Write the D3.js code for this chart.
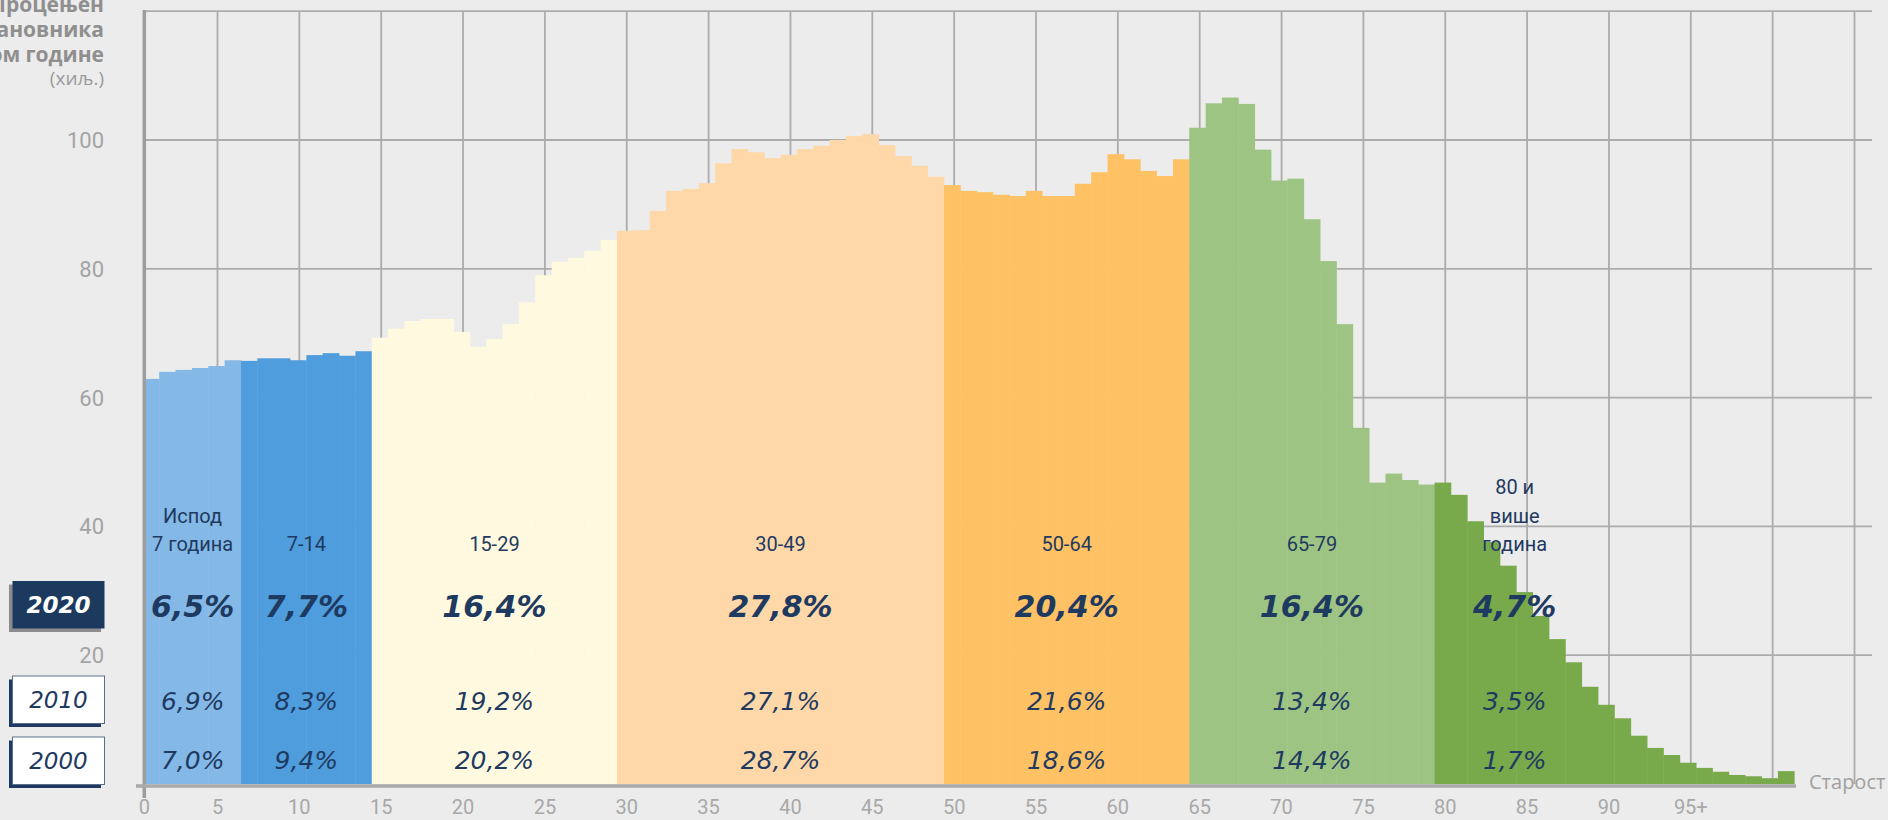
<!DOCTYPE html>
<html><head><meta charset="utf-8">
<script src="https://cdn.jsdelivr.net/npm/d3@7"></script>
<style>body{margin:0;background:#ececec;overflow:hidden}</style>
</head><body><svg id="c" width="1888" height="820"></svg>
<script>
// ---------- data ----------
const barIndex = d3.range(1, 102); // single-year bars, last one is the open-ended top bar
const population = [
  62.9,64.0,64.3,64.6,64.9,65.8,
  65.7,66.1,66.1,65.8,66.6,66.9,66.5,67.2,
  69.3,70.7,71.9,72.2,72.2,70.2,67.9,69.1,71.4,74.8,79.0,81.1,81.7,82.8,84.5,
  85.9,86.0,89.0,92.1,92.4,93.3,96.4,98.6,98.1,97.2,97.7,98.6,99.1,100.0,100.6,100.9,99.2,97.5,96.0,94.3,
  93.0,92.1,91.9,91.5,91.3,92.1,91.3,91.3,93.2,95.0,97.8,97.0,95.2,94.4,97.0,
  101.9,105.7,106.6,105.6,98.5,93.7,94.0,87.7,81.2,71.4,55.3,46.8,48.2,47.2,46.5,
  46.8,44.9,40.8,37.6,33.9,29.8,26.1,22.5,18.9,15.1,12.3,10.2,7.5,5.6,4.5,3.3,2.5,1.9,1.4,1.2,0.9,2.0
];
const groupLabels = [["Испод","7 година"],["7-14"],["15-29"],["30-49"],["50-64"],["65-79"],["80 и","више","година"]];
const groupStart = [1, 7, 15, 30, 50, 65, 80];
const groupEnd   = [6, 14, 29, 49, 64, 79, 101];
const groupColors = ["#84b8e6","#4f9ddd","#fffadf","#fed8a8","#fec265","#9ec483","#78a94b"];
const share2020 = ["6,5%","7,7%","16,4%","27,8%","20,4%","16,4%","4,7%"];
const share2010 = ["6,9%","8,3%","19,2%","27,1%","21,6%","13,4%","3,5%"];
const share2000 = ["7,0%","9,4%","20,2%","28,7%","18,6%","14,4%","1,7%"];
const years = ["2020","2010","2000"];
const yTicks = [20, 40, 60, 80, 100];
const yGrid = [20, 40, 60, 80, 100, 120];
const xGridTicks = d3.range(5, 110, 5);
const xTickLabels = ["5","10","15","20","25","30","35","40","45","50","55","60","65","70","75","80","85","90","95+"];
const yTitle = ["Процењен","број становника","средином године"];
const yUnit = "(хиљ.)";
const xTitle = "Старост";

// ---------- layout ----------
const W = 1888, H = 820;
const axisX = 144.3;
const x = d3.scaleLinear().domain([0, 100]).range([134.7, 1769.7]);       // bar centres
const xGrid = d3.scaleLinear().domain([0, 100]).range([135.65, 1772.65]); // grid / tick positions
const y = d3.scaleLinear().domain([0, 120]).range([784, 11.2]);
const navy = "#1f3a60";
const lastGroupCentre = 84.4;

const svg = d3.select("#c");
svg.append("rect").attr("width", W).attr("height", H).attr("fill", "#ececec");

// grid
const grid = svg.append("g").attr("stroke", "#acacac").attr("stroke-width", 1.8);
grid.selectAll("line.h").data(yGrid).join("line")
  .attr("x1", axisX).attr("x2", 1872).attr("y1", d => y(d)).attr("y2", d => y(d));
grid.selectAll("line.v").data(xGridTicks).join("line")
  .attr("x1", d => xGrid(d)).attr("x2", d => xGrid(d)).attr("y1", y(120)).attr("y2", y(0));

// bars
svg.append("clipPath").attr("id", "plotclip").append("rect")
  .attr("x", axisX).attr("y", 0).attr("width", W).attr("height", H);
const groupOf = a => groupStart.findIndex((s, i) => a >= s && a <= groupEnd[i]);
svg.append("g").attr("clip-path", "url(#plotclip)")
  .selectAll("rect").data(barIndex).join("rect")
  .attr("x", d => x(d - 0.5))
  .attr("width", d => x(d + 0.5) - x(d - 0.5) + 0.4)
  .attr("y", (d, i) => y(population[i]))
  .attr("height", (d, i) => y(0) - y(population[i]))
  .attr("fill", d => groupColors[groupOf(d)]);

// axes lines
svg.append("line").attr("x1", axisX).attr("x2", axisX).attr("y1", 10).attr("y2", 798)
  .attr("stroke", "#9d9d9d").attr("stroke-width", 3.5);
svg.append("line").attr("x1", 136).attr("x2", 1796).attr("y1", 786).attr("y2", 786)
  .attr("stroke", "#a9a9a9").attr("stroke-width", 3.5);

// y tick labels
svg.append("g").selectAll("text").data(yTicks).join("text")
  .attr("x", 104).attr("y", d => y(d)).attr("dy", "0.36em")
  .attr("text-anchor", "end").attr("fill", "#a3a3a3")
  .style("font", "22px Roboto").text(d => d);

// x tick labels
const xl = svg.append("g").style("font", "20px Roboto").attr("fill", "#a8a8a8").attr("text-anchor", "middle");
xl.append("text").attr("x", axisX).attr("y", 814).text("0");
xl.selectAll("text.t").data(xTickLabels).join("text")
  .attr("x", (d, i) => xGrid(xGridTicks[i])).attr("y", 814).text(d => d);

// axis titles
svg.append("g").selectAll("text").data(yTitle).join("text")
  .attr("x", 104).attr("y", (d, i) => 12 + i * 25).attr("text-anchor", "end")
  .attr("fill", "#8f8f8f").style("font", "bold 21px 'Open Sans'").text(d => d);
svg.append("text").attr("x", 104).attr("y", 85).attr("text-anchor", "end")
  .attr("fill", "#9a9a9a").style("font", "19px 'Open Sans'").text(yUnit);
svg.append("text").attr("x", 1809).attr("y", 789).attr("fill", "#a0a0a0")
  .style("font", "20px 'Open Sans'").text(xTitle);

// group labels & percentages
const centre = i => i === groupLabels.length - 1 ? x(lastGroupCentre)
  : (Math.max(x(groupStart[i] - 0.5), axisX) + x(groupEnd[i] + 0.5)) / 2;
const gl = svg.append("g").attr("fill", navy).attr("text-anchor", "middle").style("font", "20px Roboto");
groupLabels.forEach((lines, i) => {
  lines.forEach((t, j) => {
    gl.append("text").attr("x", centre(i))
      .attr("y", 551 - (lines.length - 1 - j) * 28.5).text(t);
  });
});
const pct = svg.append("g").attr("fill", navy).attr("text-anchor", "middle");
pct.selectAll("text.a").data(share2020).join("text").attr("class", "a")
  .attr("x", (d, i) => centre(i)).attr("y", 617)
  .style("font", "italic bold 30px 'DejaVu Sans'").text(d => d);
pct.selectAll("text.b").data(share2010).join("text").attr("class", "b")
  .attr("x", (d, i) => centre(i)).attr("y", 710)
  .style("font", "italic 25px 'DejaVu Sans'").text(d => d);
pct.selectAll("text.c").data(share2000).join("text").attr("class", "c")
  .attr("x", (d, i) => centre(i)).attr("y", 769)
  .style("font", "italic 25px 'DejaVu Sans'").text(d => d);

// year boxes
const boxY = [581, 676, 737];
const lg = svg.append("g");
years.forEach((yr, i) => {
  const first = i === 0;
  lg.append("rect").attr("x", 9).attr("y", boxY[i] + 3.5).attr("width", 92).attr("height", 47.5)
    .attr("fill", first ? "#8c8c8c" : navy);
  lg.append("rect").attr("x", 12.5).attr("y", boxY[i]).attr("width", 92).attr("height", 47.5)
    .attr("fill", first ? "#1c3a5e" : "#ffffff")
    .attr("stroke", first ? "none" : "#5a6f8c").attr("stroke-width", 1);
  lg.append("text").attr("x", 58.5).attr("y", boxY[i] + 32).attr("text-anchor", "middle")
    .attr("fill", first ? "#ffffff" : navy)
    .style("font", (first ? "italic bold " : "italic ") + "23px 'DejaVu Sans'").text(yr);
});
</script>
</body></html>
